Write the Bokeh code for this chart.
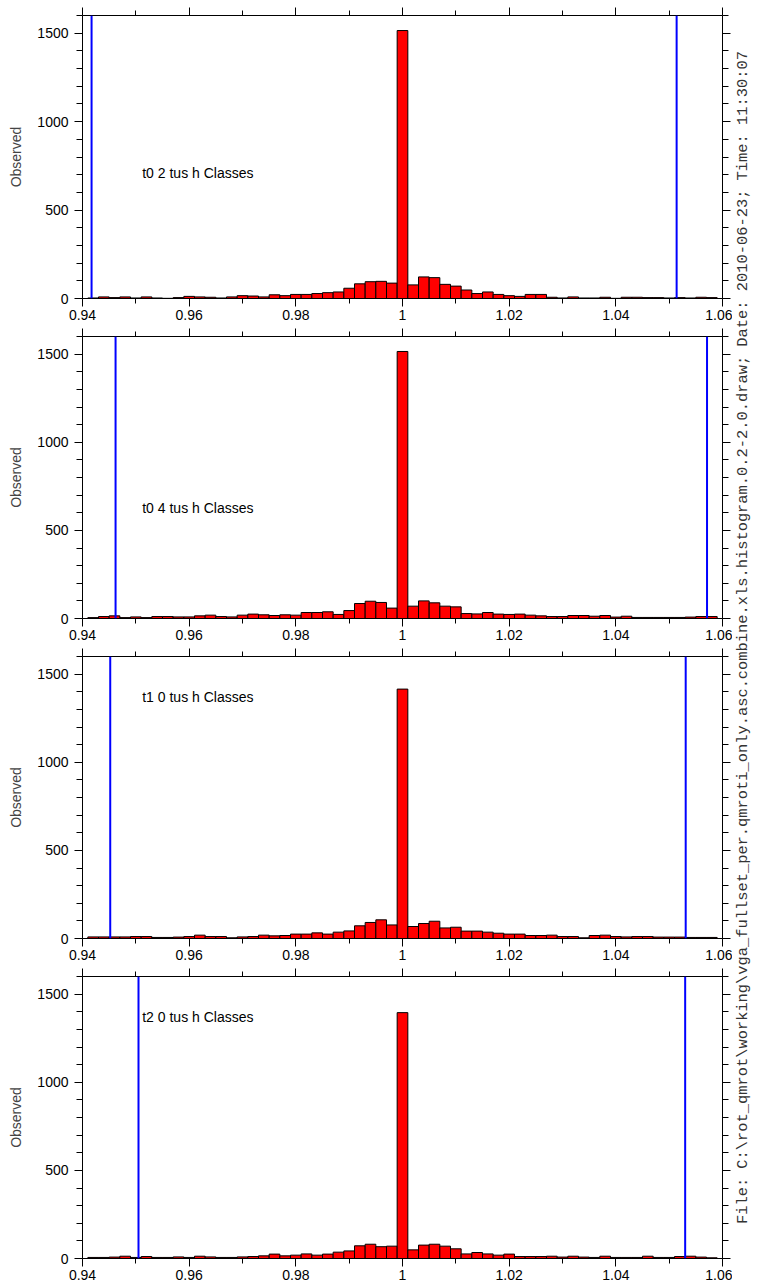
import numpy as np
from math import pi
from bokeh.plotting import figure
from bokeh.layouts import column, row
from bokeh.models import Span, Label, FixedTicker, LinearAxis, Range1d, ColumnDataSource
from bokeh.embed import file_html
from bokeh.resources import INLINE

# ---------------- data ----------------
bin_width = 0.002
bin_centers = np.round(0.942 + bin_width * np.arange(59), 3)

panel_titles = ["t0 2 tus h Classes", "t0 4 tus h Classes",
                "t1 0 tus h Classes", "t2 0 tus h Classes"]

counts_t0_2 = [3, 9, 5, 9, 3, 9, 3, 1, 5, 12, 9, 7, 3, 9, 16, 14, 9, 21, 16, 23,
               23, 28, 33, 37, 58, 83, 95, 97, 87, 1515, 77, 122, 118, 80, 70, 48, 28, 37, 23, 16,
               12, 23, 23, 7, 3, 9, 3, 3, 7, 1, 7, 7, 5, 5, 3, 5, 3, 7, 5]
counts_t0_4 = [5, 11, 15, 5, 9, 5, 11, 11, 9, 9, 15, 19, 11, 9, 19, 25, 21, 17, 21, 19,
               34, 34, 38, 23, 45, 85, 98, 91, 59, 1515, 70, 100, 89, 70, 66, 28, 26, 34, 25, 23,
               25, 19, 15, 11, 11, 17, 17, 13, 17, 8, 13, 6, 6, 6, 6, 6, 8, 11, 11]
counts_t1_0 = [9, 9, 9, 9, 11, 11, 6, 6, 8, 11, 19, 11, 11, 4, 9, 11, 19, 15, 17, 25,
               25, 32, 25, 36, 43, 72, 91, 106, 77, 1415, 68, 85, 98, 60, 64, 42, 42, 36, 30, 25,
               25, 17, 17, 19, 11, 11, 4, 17, 19, 11, 9, 11, 11, 8, 8, 8, 6, 6, 6]
counts_t2_0 = [6, 6, 8, 13, 6, 11, 6, 6, 9, 6, 13, 9, 6, 6, 9, 11, 15, 25, 15, 19,
               26, 19, 25, 36, 43, 72, 81, 67, 70, 1395, 49, 76, 81, 70, 55, 26, 34, 26, 19, 25,
               11, 11, 11, 13, 8, 13, 8, 6, 13, 6, 6, 6, 13, 6, 6, 11, 13, 8, 4]
all_counts = [counts_t0_2, counts_t0_4, counts_t1_0, counts_t2_0]

lower_limits = [0.9417, 0.9462, 0.9452, 0.9505]
upper_limits = [1.0514, 1.0571, 1.0531, 1.0530]

label_x = 0.9512
label_y = [710, 625, 1370, 1370]

x_major_ticks = [0.94, 0.96, 0.98, 1.0, 1.02, 1.04, 1.06]
x_tick_labels = ["0.94", "0.96", "0.98", "1", "1.02", "1.04", "1.06"]
x_minor_ticks = [0.95, 0.97, 0.99, 1.01, 1.03, 1.05]
y_major_ticks = [0, 500, 1000, 1500]
y_minor_ticks = [100, 200, 300, 400, 600, 700, 800, 900, 1100, 1200, 1300, 1400, 1600]

footer = ("File: C:\\rot_qmrot\\working\\vga_fullset_per.qmroti_only.asc.combine.xls."
          "histogram.0.2-2.0.draw; Date: 2010-06-23; Time: 11:30:07")

FONT = "Liberation Sans"


def style_axis(ax, show_labels, tick_out_major, tick_out_minor):
    ax.axis_line_color = "black"
    ax.axis_line_width = 1
    ax.major_tick_line_color = "black"
    ax.minor_tick_line_color = "black"
    ax.major_tick_in = 0
    ax.minor_tick_in = 0
    ax.major_tick_out = tick_out_major
    ax.minor_tick_out = tick_out_minor
    if show_labels:
        ax.major_label_text_font = FONT
        ax.major_label_text_font_size = "14px"
        ax.major_label_text_color = "black"
    else:
        ax.major_label_text_color = None
        ax.major_label_text_alpha = 0
        ax.major_label_text_font_size = "0px"
        ax.major_label_standoff = 0


def make_panel(i):
    first, last = i == 0, i == 3
    top_b = 15 if first else 7
    bot_b = 29 if last else 30
    h = top_b + 283 + bot_b
    p = figure(width=732, height=h, output_backend="svg", toolbar_location=None,
               x_range=Range1d(0.94, 1.06), y_range=Range1d(0, 1600),
               min_border_left=82, min_border_right=10, min_border_top=top_b,
               min_border_bottom=bot_b)
    p.outline_line_color = None
    p.grid.visible = False
    p.background_fill_color = "white"

    xa = p.xaxis[0]
    xa.ticker = FixedTicker(ticks=x_major_ticks, minor_ticks=x_minor_ticks)
    xa.major_label_overrides = {t: l for t, l in zip(x_major_ticks, x_tick_labels)}
    style_axis(xa, True, 8, 5)
    xa.major_label_standoff = 3

    ya = p.yaxis[0]
    ya.ticker = FixedTicker(ticks=y_major_ticks, minor_ticks=y_minor_ticks)
    style_axis(ya, True, 8, 6)
    ya.major_label_standoff = 6
    ya.axis_label = "Observed"
    ya.axis_label_text_font = FONT
    ya.axis_label_text_font_size = "14px"
    ya.axis_label_text_font_style = "normal"
    ya.axis_label_standoff = 10

    top = LinearAxis(ticker=FixedTicker(ticks=x_major_ticks, minor_ticks=x_minor_ticks))
    style_axis(top, False, 8, 5)
    p.add_layout(top, "above")
    right = LinearAxis(ticker=FixedTicker(ticks=y_major_ticks, minor_ticks=y_minor_ticks))
    style_axis(right, False, 8, 6)
    p.add_layout(right, "right")

    src = ColumnDataSource(dict(x=bin_centers, top=all_counts[i]))
    p.vbar(x="x", top="top", bottom=0, width=bin_width, source=src,
           fill_color="#FF0000", line_color="black", line_width=1)

    for v in (lower_limits[i], upper_limits[i]):
        p.add_layout(Span(location=v, dimension="height", line_color="#0000FF", line_width=2))

    p.add_layout(Label(x=label_x, y=label_y[i], text=panel_titles[i],
                       text_font=FONT, text_font_size="14px", text_color="black",
                       text_baseline="middle", text_align="left"))
    return p


panels = [make_panel(i) for i in range(4)]
total_h = sum(pp.height for pp in panels)

side = figure(width=34, height=total_h, output_backend="svg", toolbar_location=None,
              x_range=Range1d(0, 1), y_range=Range1d(0, 1),
              min_border=0, min_border_left=0, min_border_right=0,
              min_border_top=0, min_border_bottom=0)
side.axis.visible = False
side.grid.visible = False
side.outline_line_color = None
side.add_layout(Label(x=0.3, y=0.505, text=footer, angle=pi / 2,
                      text_font="Liberation Mono", text_font_size="15.4px", text_color="#333333",
                      text_align="center", text_baseline="middle"))

layout = row(column(*panels), side)
open("out.html", "w").write(file_html(layout, INLINE))
